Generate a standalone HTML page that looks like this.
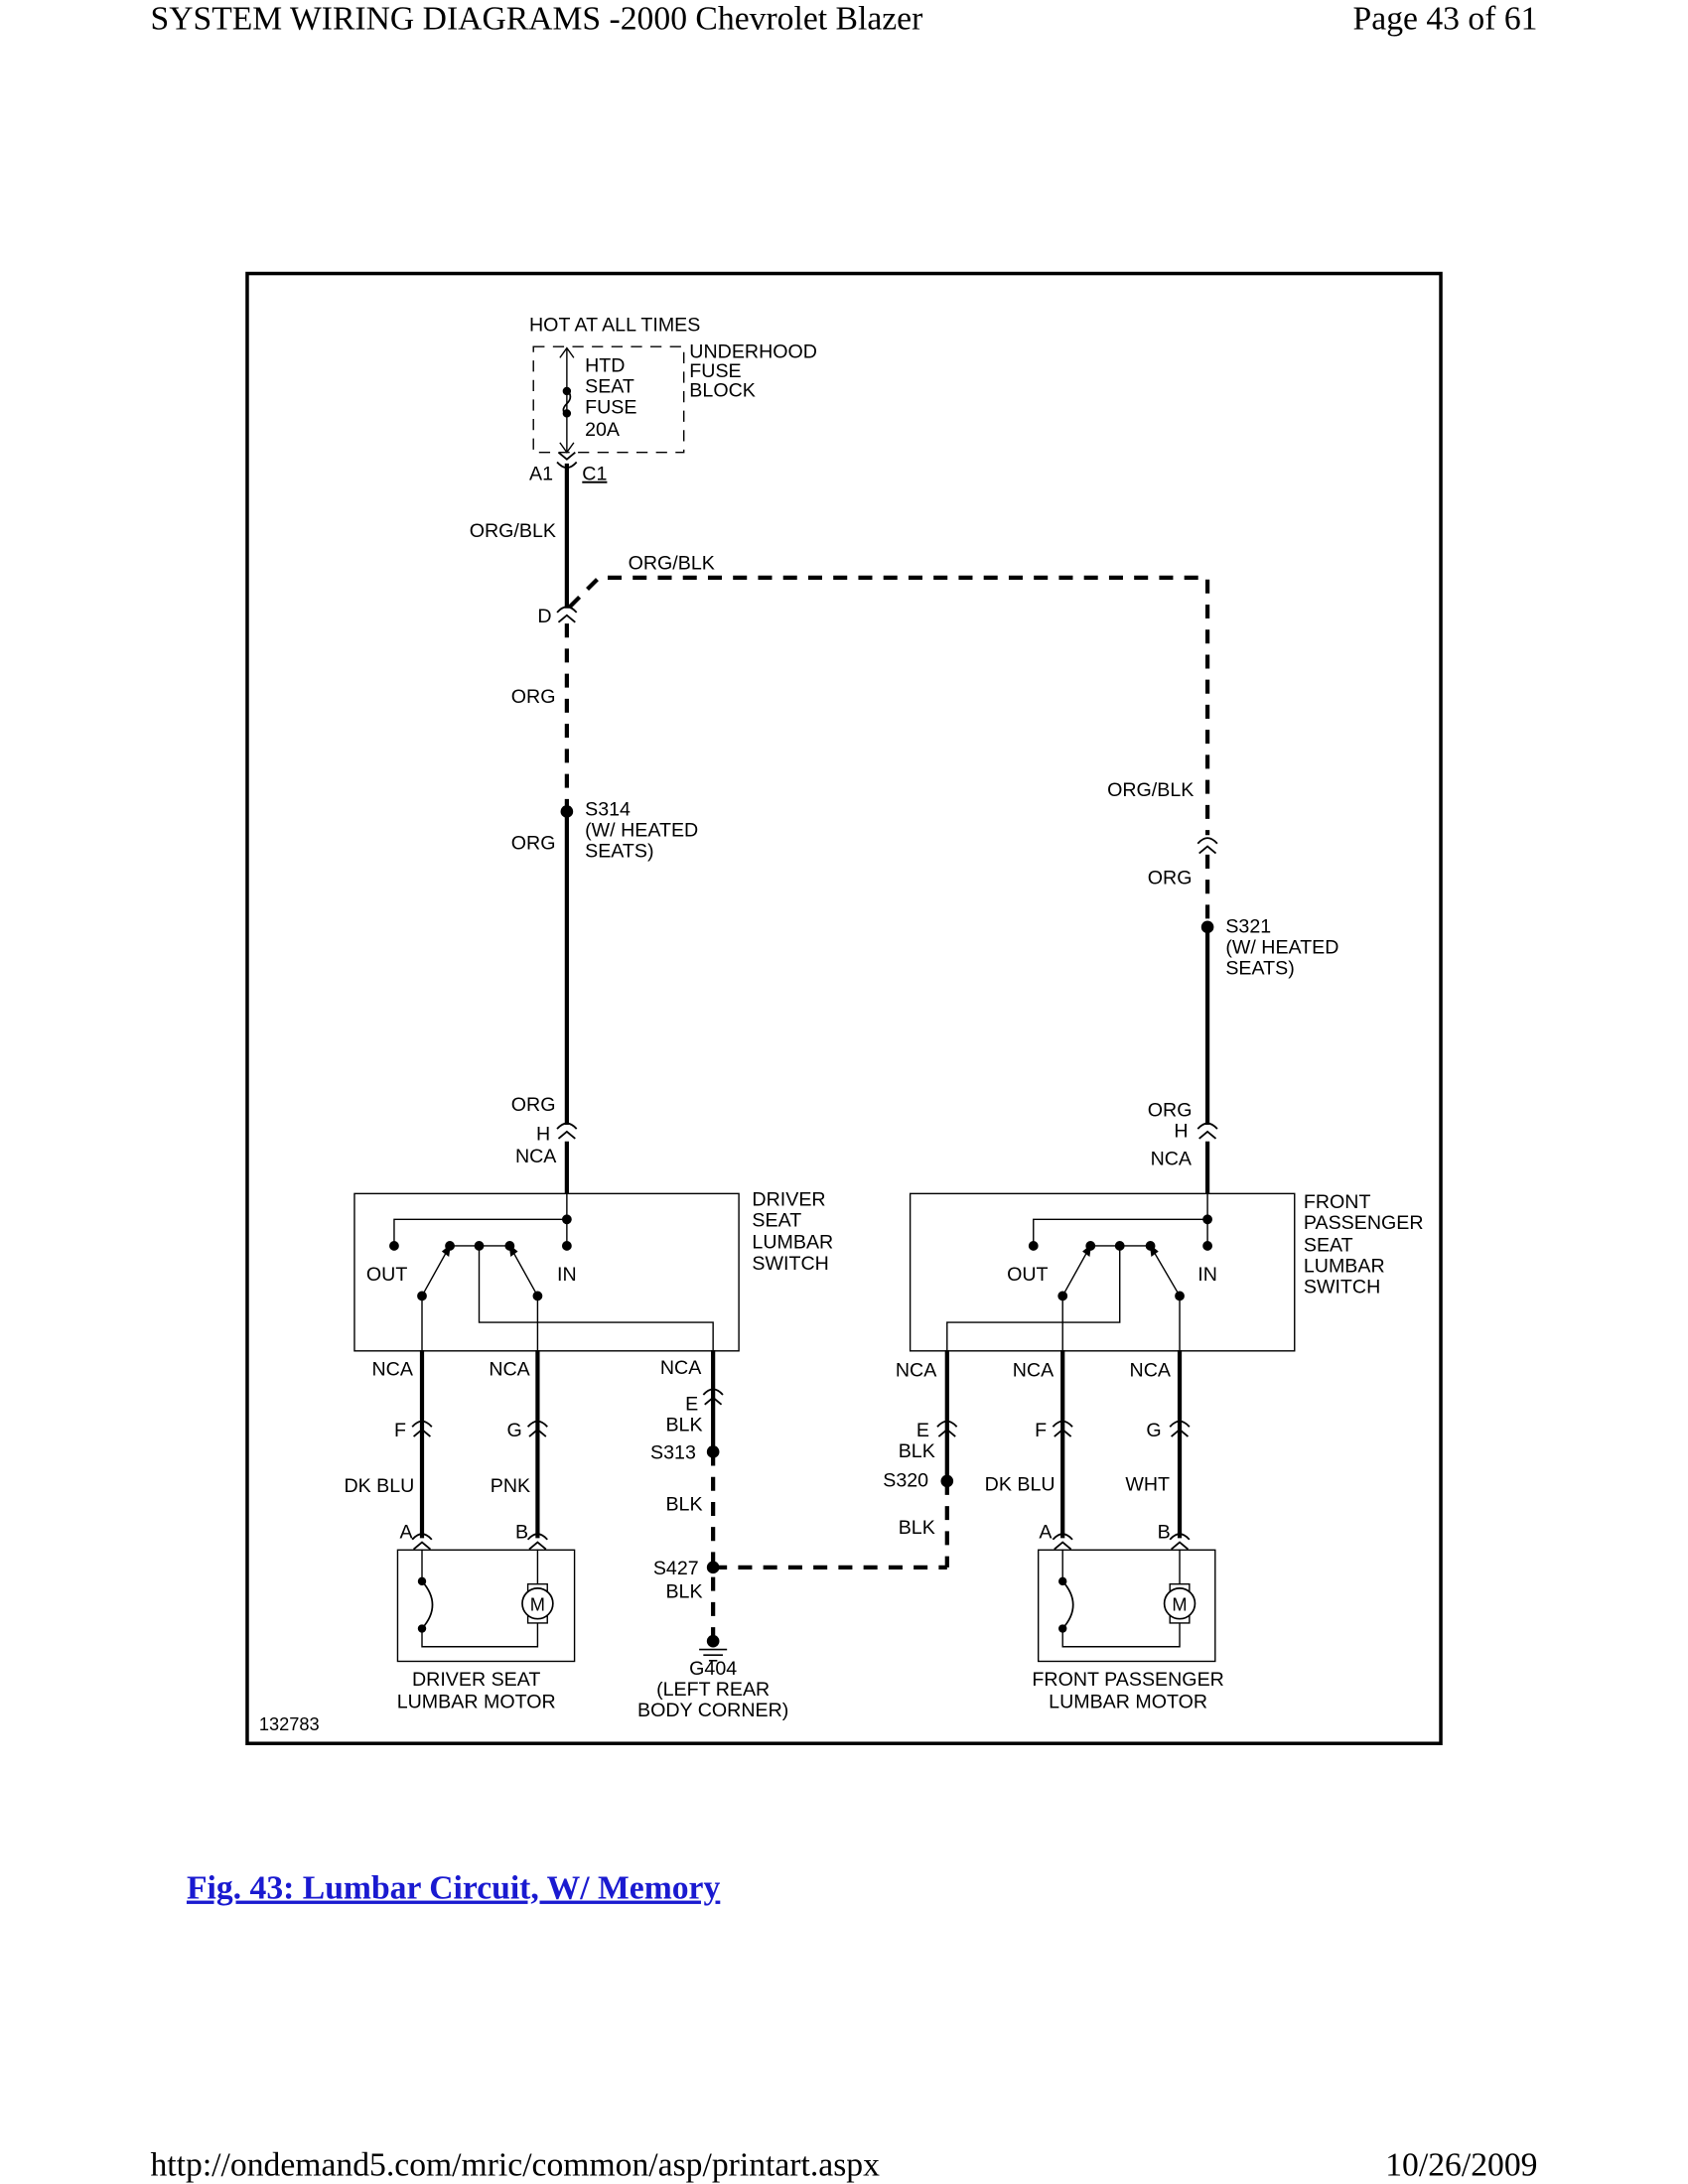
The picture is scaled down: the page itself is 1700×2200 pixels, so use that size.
<!DOCTYPE html>
<html><head><meta charset="utf-8"><style>
html,body{margin:0;padding:0;background:#fff}
svg{display:block}
</style></head><body>
<svg width="1700" height="2200" viewBox="0 0 1212 1569" preserveAspectRatio="none" xmlns="http://www.w3.org/2000/svg">
<defs>
<g id="conn"><path d="M-7,3 Q0,-5 7,3" fill="none" stroke="#000" stroke-width="1.3"/><path d="M-6,10 L0,5 L6,10" fill="none" stroke="#000" stroke-width="1.3"/></g>
</defs>
<rect width="1212" height="1569" fill="#fff"/>
<g font-family="Liberation Serif, serif" font-size="24" fill="#000">
<text x="108" y="21">SYSTEM WIRING DIAGRAMS -2000 Chevrolet Blazer</text>
<text x="1104" y="21" text-anchor="end">Page 43 of 61</text>
<text x="108" y="1563">http://ondemand5.com/mric/common/asp/printart.aspx</text>
<text x="1104" y="1563" text-anchor="end">10/26/2009</text>
<text x="134" y="1364" fill="#1a1ad0" font-weight="bold" text-decoration="underline">Fig. 43: Lumbar Circuit, W/ Memory</text>
</g>
<rect x="177.5" y="196.5" width="857" height="1056" fill="none" stroke="#000" stroke-width="2.5"/>

<g stroke="#000" fill="none">
<rect x="383" y="249" width="108" height="76" stroke-width="1" stroke-dasharray="8,6"/>
<line x1="407" y1="251" x2="407" y2="324" stroke-width="1"/>
<path d="M402,257 L407,250 L412,257 M402,318 L407,325 L412,318" stroke-width="1"/>
<path d="M407,280 Q412,285 407,290 Q402,295 407,298" stroke-width="1.2"/>
<line x1="407" y1="333" x2="407" y2="437" stroke-width="3"/>
<line x1="407" y1="448" x2="407" y2="583" stroke-width="3" stroke-dasharray="10,8"/>
<line x1="407" y1="583" x2="407" y2="808" stroke-width="3"/>
<line x1="407" y1="820" x2="407" y2="858" stroke-width="3"/>
<path d="M409,436 L430,415 L867,415 L867,600" stroke-width="3" stroke-dasharray="10,8"/>
<line x1="867" y1="614" x2="867" y2="666" stroke-width="3" stroke-dasharray="10,8"/>
<line x1="867" y1="666" x2="867" y2="808" stroke-width="3"/>
<line x1="867" y1="820" x2="867" y2="858" stroke-width="3"/>

<rect x="254.5" y="857.5" width="276" height="113" stroke-width="1"/>
<path d="M407,857 L407,895 M407,876 L283,876 L283,895" stroke-width="1"/>
<path d="M323,895 L366,895 M344,895 L344,950 L512,950 L512,970" stroke-width="1"/>
<path d="M303,931 L323,895 M386,931 L366,895 M303,931 L303,970 M386,931 L386,970" stroke-width="1"/>
<line x1="303" y1="970" x2="303" y2="1105" stroke-width="3"/>
<line x1="386" y1="970" x2="386" y2="1105" stroke-width="3"/>
<line x1="512" y1="970" x2="512" y2="1043" stroke-width="3"/>
<line x1="512" y1="1043" x2="512" y2="1175" stroke-width="3" stroke-dasharray="10,8"/>
<line x1="512" y1="1126" x2="680" y2="1126" stroke-width="3" stroke-dasharray="10,8"/>
<rect x="285.5" y="1113.5" width="127" height="80" stroke-width="1"/>
<path d="M303,1113 L303,1136 M303,1170 L303,1183 L386,1183 L386,1163 M386,1113 L386,1142" stroke-width="1"/>
<path d="M303,1136 Q318,1153 303,1170" stroke-width="1.2"/>
<rect x="379" y="1138" width="14" height="28" stroke-width="1" fill="#fff"/>
<circle cx="386" cy="1152" r="11" stroke-width="1.2" fill="#fff"/>

<rect x="653.5" y="857.5" width="276" height="113" stroke-width="1"/>
<path d="M867,857 L867,895 M867,876 L742,876 L742,895" stroke-width="1"/>
<path d="M783,895 L826,895 M804,895 L804,950 L680,950 L680,970" stroke-width="1"/>
<path d="M763,931 L783,895 M847,931 L826,895 M763,931 L763,970 M847,931 L847,970" stroke-width="1"/>
<line x1="763" y1="970" x2="763" y2="1105" stroke-width="3"/>
<line x1="847" y1="970" x2="847" y2="1105" stroke-width="3"/>
<line x1="680" y1="970" x2="680" y2="1064" stroke-width="3"/>
<line x1="680" y1="1064" x2="680" y2="1126" stroke-width="3" stroke-dasharray="10,8"/>
<rect x="745.5" y="1113.5" width="127" height="80" stroke-width="1"/>
<path d="M763,1113 L763,1136 M763,1170 L763,1183 L847,1183 L847,1163 M847,1113 L847,1142" stroke-width="1"/>
<path d="M763,1136 Q778,1153 763,1170" stroke-width="1.2"/>
<rect x="840" y="1138" width="14" height="28" stroke-width="1" fill="#fff"/>
<circle cx="847" cy="1152" r="11" stroke-width="1.2" fill="#fff"/>
<path d="M502,1185 L522,1185 M505,1189 L519,1189 M509,1193 L515,1193" stroke-width="1.2"/>
<path d="M318,899 L323,895 L322,902 Z M371,899 L366,895 L367,902 Z M778,899 L783,895 L782,902 Z M831,899 L826,895 L827,902 Z" fill="#000" stroke-width="1"/>
</g>

<g>
<use href="#conn" x="407" y="325" transform="rotate(180 407 330)"/>
<use href="#conn" x="407" y="437"/>
<use href="#conn" x="407" y="808"/>
<use href="#conn" x="867" y="603"/>
<use href="#conn" x="867" y="808"/>
<use href="#conn" x="303" y="1022"/>
<use href="#conn" x="386" y="1022"/>
<use href="#conn" x="512" y="999"/>
<use href="#conn" x="680" y="1022"/>
<use href="#conn" x="763" y="1022"/>
<use href="#conn" x="847" y="1022"/>
<use href="#conn" x="303" y="1103"/>
<use href="#conn" x="386" y="1103"/>
<use href="#conn" x="763" y="1103"/>
<use href="#conn" x="847" y="1103"/>
</g>

<g fill="#000">
<circle cx="407" cy="583" r="4.5"/><circle cx="867" cy="666" r="4.5"/>
<circle cx="512" cy="1043" r="4.5"/><circle cx="512" cy="1126" r="4.5"/><circle cx="680" cy="1064" r="4.5"/>
<circle cx="512" cy="1179" r="4.5"/>
<circle cx="407" cy="281" r="3"/><circle cx="407" cy="297" r="3"/>
<circle cx="407" cy="876" r="3.5"/><circle cx="283" cy="895" r="3.5"/><circle cx="407" cy="895" r="3.5"/>
<circle cx="323" cy="895" r="3.5"/><circle cx="344" cy="895" r="3.5"/><circle cx="366" cy="895" r="3.5"/>
<circle cx="303" cy="931" r="3.5"/><circle cx="386" cy="931" r="3.5"/>
<circle cx="867" cy="876" r="3.5"/><circle cx="742" cy="895" r="3.5"/><circle cx="867" cy="895" r="3.5"/>
<circle cx="783" cy="895" r="3.5"/><circle cx="804" cy="895" r="3.5"/><circle cx="826" cy="895" r="3.5"/>
<circle cx="763" cy="931" r="3.5"/><circle cx="847" cy="931" r="3.5"/>
<circle cx="303" cy="1136" r="3"/><circle cx="303" cy="1170" r="3"/>
<circle cx="763" cy="1136" r="3"/><circle cx="763" cy="1170" r="3"/>
</g>

<g font-family="Liberation Sans, sans-serif" font-size="14" fill="#000">
<text x="380" y="238">HOT AT ALL TIMES</text>
<text x="495" y="257">UNDERHOOD</text><text x="495" y="271">FUSE</text><text x="495" y="285">BLOCK</text>
<text x="420" y="267">HTD</text><text x="420" y="282">SEAT</text><text x="420" y="297">FUSE</text><text x="420" y="313">20A</text>
<text x="380" y="345">A1</text><text x="418" y="345" text-decoration="underline">C1</text>
<text x="337" y="386">ORG/BLK</text>
<text x="451" y="409">ORG/BLK</text>
<text x="386" y="447">D</text>
<text x="367" y="505">ORG</text>
<text x="420" y="586">S314</text><text x="420" y="601">(W/ HEATED</text><text x="420" y="616">SEATS)</text>
<text x="367" y="610">ORG</text>
<text x="367" y="798">ORG</text>
<text x="385" y="819">H</text>
<text x="370" y="835">NCA</text>
<text x="795" y="572">ORG/BLK</text>
<text x="824" y="635">ORG</text>
<text x="880" y="670">S321</text><text x="880" y="685">(W/ HEATED</text><text x="880" y="700">SEATS)</text>
<text x="824" y="802">ORG</text>
<text x="843" y="817">H</text>
<text x="826" y="837">NCA</text>
<text x="540" y="866">DRIVER</text><text x="540" y="881">SEAT</text><text x="540" y="897">LUMBAR</text><text x="540" y="912">SWITCH</text>
<text x="936" y="868">FRONT</text><text x="936" y="883">PASSENGER</text><text x="936" y="899">SEAT</text><text x="936" y="914">LUMBAR</text><text x="936" y="929">SWITCH</text>
<text x="263" y="920">OUT</text><text x="400" y="920">IN</text>
<text x="723" y="920">OUT</text><text x="860" y="920">IN</text>
<text x="267" y="988">NCA</text><text x="351" y="988">NCA</text><text x="474" y="987">NCA</text>
<text x="643" y="989">NCA</text><text x="727" y="989">NCA</text><text x="811" y="989">NCA</text>
<text x="283" y="1032">F</text><text x="364" y="1032">G</text>
<text x="492" y="1013">E</text><text x="478" y="1028">BLK</text>
<text x="467" y="1048">S313</text>
<text x="478" y="1085">BLK</text>
<text x="469" y="1131">S427</text>
<text x="478" y="1148">BLK</text>
<text x="512" y="1203" text-anchor="middle">G404</text>
<text x="512" y="1218" text-anchor="middle">(LEFT REAR</text>
<text x="512" y="1233" text-anchor="middle">BODY CORNER)</text>
<text x="247" y="1072">DK BLU</text><text x="352" y="1072">PNK</text>
<text x="287" y="1105">A</text><text x="370" y="1105">B</text>
<text x="658" y="1032">E</text><text x="645" y="1047">BLK</text>
<text x="634" y="1068">S320</text>
<text x="645" y="1102">BLK</text>
<text x="743" y="1032">F</text><text x="823" y="1032">G</text>
<text x="707" y="1071">DK BLU</text><text x="808" y="1071">WHT</text>
<text x="746" y="1105">A</text><text x="831" y="1105">B</text>
<text x="342" y="1211" text-anchor="middle">DRIVER SEAT</text>
<text x="342" y="1227" text-anchor="middle">LUMBAR MOTOR</text>
<text x="810" y="1211" text-anchor="middle">FRONT PASSENGER</text>
<text x="810" y="1227" text-anchor="middle">LUMBAR MOTOR</text>
<text x="186" y="1243" font-size="13">132783</text>
<text x="386" y="1157" text-anchor="middle" font-size="13">M</text>
<text x="847" y="1157" text-anchor="middle" font-size="13">M</text>
</g>
</svg>
</body></html>
